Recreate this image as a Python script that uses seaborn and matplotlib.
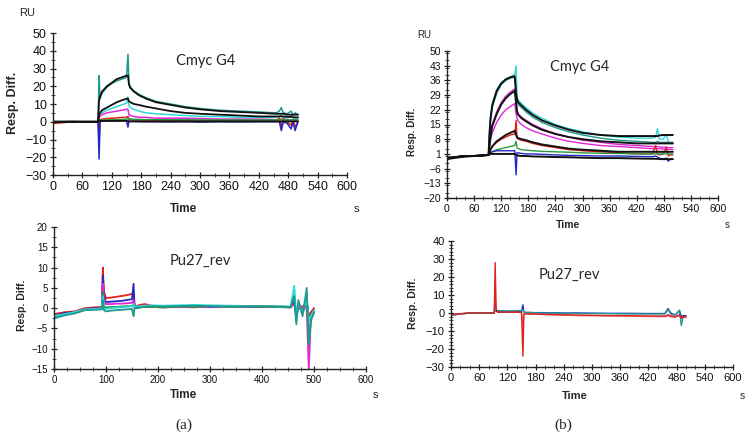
import numpy as np
import pandas as pd
import seaborn as sns
import matplotlib.pyplot as plt
from matplotlib.ticker import MultipleLocator, FixedLocator

# sampling times (s) shared by every sensorgram
time_s = [0, 20, 40, 60, 80, 92, 94, 96, 100, 110, 120, 130, 140, 150, 153, 155, 158, 165,
          175, 190, 210, 240, 270, 300, 340, 380, 420, 455, 462, 466, 470, 478, 486, 490, 494, 500]

# (a) Cmyc G4
a_top_teal = [0, 0, 0.2, 0, 0, 0, 26, 13, 16, 19.5, 21.5, 23, 24, 25, 38, 22, 19.5, 17.5, 15.5, 13.5,
              11.5, 10, 8.5, 7.5, 6.5, 6, 5.5, 5, 6, 8, 5, 4.5, 6, 3.5, 5, 4]
a_top_cyan = [0, 0, 0, 0, 0, 0, 3, 4, 5, 6.5, 7.5, 8.5, 9.5, 10.5, 14, 9, 8, 7, 6, 5,
              4.5, 4, 3.5, 3, 3, 2.5, 2.5, 2.5, 3, 4, 2.5, 2, 3, 2, 2, 2]
a_top_magenta = [0, 0, 0, 0, 0, 0, 2, 3, 4, 5, 5.5, 6, 6.5, 7, 7, 4, 3.5, 3, 2.5, 2.5,
                 2, 2, 2, 1.8, 1.5, 1.5, 1.5, 1.2, 1.2, 1.2, 1, 1, 1, 1, 1, 1]
a_top_red = [-1, -0.5, 0, 0, 0, 0, -12, 1, 1.5, 1.8, 2, 2.2, 2.4, 2.5, 3, 1.5, 1.2, 1, 1, 1,
             0.8, 0.8, 0.7, 0.7, 0.6, 0.6, 0.5, 0.5, 2, -3, 2, 0, -2, 1, -3, 0]
a_top_blue = [-0.5, 0, -0.3, 0, -0.2, 0, -21, 0, 0.3, 0.4, 0.5, 0.5, 0.6, 0.6, -3, 0.3, 0.2, 0.2, 0.1, 0,
              0, -0.1, 0, -0.2, 0, -0.1, 0, 0, 0, -5, 0, -1, -4, 0, -5, 0]
a_top_green = [0, 0, 0, 0, 0, 0, 1, 0.8, 1, 1, 1.1, 1.2, 1.2, 1.3, 2, 1.5, 1.5, 1.4, 1.3, 1.2,
               1.2, 1.1, 1.1, 1, 1, 1, 1, 1, 1, 1.5, 1, 1, 1, 1, 1, 1]
a_top_black1 = [0, 0, 0, 0, 0, 0, 12, 14, 17, 20, 22, 24, 25, 26, 26, 21, 19, 17, 15, 13,
                11, 9.5, 8, 7, 6, 5.5, 5, 4.5, 4.5, 4.5, 4.5, 4, 4, 4, 4, 4]
a_top_black2 = [0, 0, 0, 0, 0, 0, 4, 5, 6.5, 8, 9.5, 11, 12, 13, 13, 11.5, 11, 10, 9.5, 8.5,
                7.5, 6, 5, 4.5, 4, 3.5, 3, 3, 3, 3, 3, 2.8, 2.8, 2.5, 2.5, 2.5]
a_top_black3 = [0, 0, 0, 0, 0, 0, 0.5, 0.5, 0.5, 0.5, 0.5, 0.5, 0.5, 0.5, 0.5, 0.2, 0.2, 0.2, 0.2, 0.2,
                0.2, 0.2, 0.2, 0.2, 0.2, 0.2, 0.2, 0.2, 0.2, 0.2, 0.2, 0.2, 0.2, 0.2, 0.2, 0.2]

# (a) Pu27_rev
a_bot_red = [-1.5, -1, -0.8, 0, 0.2, 0.3, 10, 4, 2.5, 2.6, 2.8, 3, 3.2, 3.5, 3.5, 0.5, 0.5, 0.8, 1, 0.5,
             0.3, 0.5, 0.4, 0.5, 0.4, 0.5, 0.4, 0.3, 2, -1, 1, 0, 2, -2, -1, 0]
a_bot_blue = [-2, -1.2, -1, -0.2, 0, 0.1, 8, 3, 1.5, 1.6, 1.7, 1.8, 2, 2.2, 6, 0.2, 0, 0.2, 0.3, 0.3,
              0.2, 0.3, 0.4, 0.3, 0.4, 0.3, 0.4, 0.2, 1.5, -2, 0.5, -1, 1, -3, -2, -0.5]
a_bot_magenta = [-2, -1.5, -1, -0.3, -0.2, 0, 6, 2, 1, 1, 1.1, 1.1, 1.2, 1.3, 2, 0.5, 0.3, 0.3, 0.4, 0.3,
                 0.2, 0.3, 0.2, 0.4, 0.3, 0.4, 0.3, 0.2, 1, -1, 0, 0.5, 0, -15, -2, -1]
a_bot_green = [-2, -1.5, -1, -0.3, -0.2, 0, 4, 0.5, 0.2, 0.3, 0.3, 0.4, 0.5, 0.5, 1, 0, 0.2, 0.2, 0.3, 0.3,
               0.2, 0.4, 0.3, 0.5, 0.3, 0.4, 0.3, 0.2, 3, -3, 1, -1, 2, -9, -3, -1]
a_bot_cyan = [-2, -1.5, -1, -0.3, -0.2, -0.1, 3, 0, -0.2, 0, 0.1, 0.2, 0.3, 0.4, 1, 0.3, 0.4, 0.5, 0.6, 0.7,
              0.6, 0.7, 0.8, 0.7, 0.6, 0.5, 0.5, 0.4, 5.5, -2, 1, -1, 2, -3, -2, -0.5]
a_bot_teal = [-2.5, -1.8, -1.3, -0.5, -0.4, -0.3, 2, -0.5, -0.8, -0.6, -0.5, -0.4, -0.3, -0.2, -2, 0, 0.1, 0.2, 0.3, 0.5,
              0.4, 0.5, 0.6, 0.5, 0.4, 0.5, 0.4, 0.3, 3, -4, 2, -2, 5, -9, -3, -1]

# (b) Cmyc G4
b_top_cyan = [-1, -0.5, 0, 0, 0.3, 0.5, 12, 18, 25, 31.5, 35, 36.5, 37.5, 39, 43, 28, 26.5, 25, 23, 20.5,
              18, 15, 13, 11.5, 10, 9, 8.5, 8.5, 9, 13, 8, 8, 10, 7, 6, 6]
b_top_teal = [-1, -0.5, 0, 0, 0.3, 0.5, 9, 16, 23, 30, 34, 36, 37, 37.5, 30, 26, 24.5, 23, 21, 18.5,
              16, 13.5, 11.5, 10, 8.5, 7.5, 7, 6.5, 6.5, 7, 6.5, 6.5, 6.5, 6.5, 6.5, 6.5]
b_top_magenta1 = [-1, -0.5, 0, 0, 0.3, 0.5, 6, 10, 15, 21, 25.5, 28.5, 30.5, 32, 26, 22, 20, 18.5, 17, 15,
                  13, 10.5, 9, 7.5, 6.5, 5.5, 5, 4.5, 4.5, 4.5, 4.3, 4.2, 4.2, 4, 4, 4]
b_top_magenta2 = [-1, -0.5, 0, 0, 0.3, 0.5, 4, 7, 11, 16, 19.5, 22, 23.5, 25, 20, 18, 16.5, 15, 13.5, 12,
                  10.5, 8.5, 7, 6, 5, 4.5, 4, 3.5, 3.5, 3.5, 3.5, 3.3, 3.3, 3.2, 3.2, 3]
b_top_red = [-1, -0.5, 0, 0, 0.3, 0.5, 1.5, 3, 4.5, 6.5, 8, 9, 10, 10.5, 17, 8.5, 8, 7.5, 7, 6,
             5, 4, 3, 2.5, 2, 1.5, 1, 1, 5, 1, 0.5, 1, 4, 0, 0.5, 0.5]
b_top_green = [-1, -0.5, 0, 0, 0.3, 0.5, 1, 1.5, 2, 3, 3.5, 4, 4.5, 5, 7, 4, 3.5, 3, 2.8, 2.5,
               2.2, 2, 1.8, 1.5, 1.3, 1.2, 1, 1, 1, 1, 1, 1, 1, 1, 1, 1]
b_top_blue = [-1, -0.5, 0, 0, 0.3, 0.5, 1, 1.5, 2, 2.5, 2.5, 2.5, 2.5, 2.5, -9, 1.5, 1.5, 1.2, 1, 1,
              0.8, 0.5, 0.3, 0.2, 0, 0, -0.2, -0.3, 0, -0.5, -1, -1.5, -1, -2.5, -1.5, -1.5]
b_top_black1 = [-1, -0.5, 0, 0, 0.3, 0.5, 10, 17, 24, 31, 34.5, 36.5, 37.5, 38, 30, 27, 25.5, 24, 22, 19.5,
                17, 14.5, 12.5, 11, 10, 9.5, 9.5, 9.5, 9.5, 9.5, 9.8, 10, 10, 10, 10, 10]
b_top_black2 = [-1, -0.5, 0, 0, 0.3, 0.5, 5, 9, 14, 20, 24.5, 27.5, 29.5, 31, 25, 21, 19.5, 18, 16.5, 14.5,
                12.5, 10.5, 9, 8, 7, 6.5, 6, 6, 6, 6, 6, 6, 6, 6, 6, 6]
b_top_black3 = [-1, -0.5, 0, 0, 0.3, 0.5, 1.5, 3, 4.5, 7, 8.5, 10, 11, 12, 10, 9, 8.5, 8, 7.5, 6.5,
                5.5, 4.5, 3.5, 3, 2.5, 2, 2, 2, 2, 2, 2, 2, 2, 2, 2, 2]
b_top_black4 = [-1.5, -0.8, -0.3, 0, 0.3, 0.5, 0.8, 1, 1, 1, 1, 1, 1, 1, 0.5, 0.3, 0.2, 0, 0, -0.2,
                -0.3, -0.5, -0.6, -0.8, -1, -1, -1.2, -1.3, -1.3, -1.4, -1.4, -1.5, -1.5, -1.5, -1.5, -1.5]

# (b) Pu27_rev
b_bot_pink = [-1, -0.3, 0, 0, 0, 0, 10, 1, 0.5, 0.5, 0.5, 0.5, 0.4, 0.4, -8, -0.5, -0.5, -0.6, -0.7, -0.8,
              -1, -1.2, -1.4, -1.5, -1.6, -1.8, -1.9, -2, -1.5, -2, -2.2, -2.3, -1.5, -3, -2.5, -2.5]
b_bot_blue = [-1, -0.5, 0, 0, 0, 0, 5, 1, 0.5, 0.5, 0.6, 0.6, 0.7, 0.8, 4.5, 0.5, 0.3, 0.3, 0.2, 0.2,
              0.1, 0, 0, -0.1, -0.2, -0.2, -0.3, -0.3, 2.5, 0.5, -0.5, -1, 1.5, -2, -1.5, -1.5]
b_bot_teal = [-1.5, -0.5, 0, 0, 0, 0, 3, 1.5, 1.3, 1.3, 1.2, 1.2, 1.3, 1.3, 2, 0.5, 0.3, 0.3, 0.2, 0,
              0, -0.2, -0.3, -0.3, -0.4, -0.5, -0.5, -0.5, 2, 0, -1, -1, 1.5, -7, -2, -2]
b_bot_red = [-1, -0.5, 0, 0, 0, 0, 28, 2, 0.5, 0.5, 0.5, 0.5, 0.5, 0.5, -24, -1, -0.5, -0.5, -0.5, -0.7,
             -0.8, -1, -1.2, -1.3, -1.5, -1.5, -1.7, -1.7, -1, -1.5, -1.8, -2, -1, -3, -2, -2]

colors = {"teal": "#1f9a8c", "cyan": "#2fd9d9", "magenta": "#e028d8", "red": "#e3201b",
          "blue": "#2228c8", "green": "#2a9a3a", "pink": "#e86a8a", "black": "#111111"}


def make_table(curves):
    rows = []
    for name, vals in curves:
        col = name.split("_")[-1].rstrip("0123456789")
        for t, v in zip(time_s, vals):
            rows.append({"Time": t, "Resp": v, "curve": name, "color": col})
    return pd.DataFrame(rows)


panel_a_top = make_table([("a_teal", a_top_teal), ("a_cyan", a_top_cyan), ("a_magenta", a_top_magenta),
                          ("a_red", a_top_red), ("a_blue", a_top_blue), ("a_green", a_top_green),
                          ("a_black1", a_top_black1), ("a_black2", a_top_black2), ("a_black3", a_top_black3)])
panel_a_bot = make_table([("a_red", a_bot_red), ("a_blue", a_bot_blue), ("a_magenta", a_bot_magenta),
                          ("a_green", a_bot_green), ("a_cyan", a_bot_cyan), ("a_teal", a_bot_teal)])
panel_b_top = make_table([("b_cyan", b_top_cyan), ("b_teal", b_top_teal), ("b_magenta1", b_top_magenta1),
                          ("b_magenta2", b_top_magenta2), ("b_red", b_top_red), ("b_green", b_top_green),
                          ("b_blue", b_top_blue), ("b_black1", b_top_black1), ("b_black2", b_top_black2),
                          ("b_black3", b_top_black3), ("b_black4", b_top_black4)])
panel_b_bot = make_table([("b_pink", b_bot_pink), ("b_blue", b_bot_blue), ("b_teal", b_bot_teal),
                          ("b_red", b_bot_red)])

sns.set_style("ticks")
plt.rcParams['font.family'] = ['Liberation Sans', 'DejaVu Sans']

W, H = 753, 445
fig = plt.figure(figsize=(W / 100, H / 100), dpi=100)


def px_axes(left, top, right, bottom):
    return fig.add_axes([left / W, 1 - bottom / H, (right - left) / W, (bottom - top) / H])


def px_text(x, y, s, **kw):
    fig.text(x / W, 1 - y / H, s, ha="center", va="center", **kw)


def draw(ax, df, lw_color=1.1, lw_black=1.3):
    pal = {c: colors[df[df.curve == c].color.iloc[0]] for c in df.curve.unique()}
    sizes = {c: (lw_black if "black" in c else lw_color) for c in df.curve.unique()}
    sns.lineplot(data=df, x="Time", y="Resp", hue="curve", palette=pal, size="curve", sizes=sizes,
                 estimator=None, sort=False, legend=False, ax=ax)


def style(ax, xmaj, xmin, ymin_lim, ymax_lim, yticks, ymin_step, fs):
    sns.despine(ax=ax)
    ax.set_xlim(0, 600)
    ax.set_ylim(ymin_lim, ymax_lim)
    ax.xaxis.set_major_locator(MultipleLocator(xmaj))
    ax.xaxis.set_minor_locator(MultipleLocator(xmin))
    ax.yaxis.set_major_locator(FixedLocator(yticks))
    ax.yaxis.set_minor_locator(MultipleLocator(ymin_step))
    ax.tick_params(which="major", direction="inout", length=5, width=0.9, labelsize=fs, pad=2,
                   color="#222222", labelcolor="#111111")
    ax.tick_params(which="minor", direction="inout", length=2.5, width=0.7, color="#444444")
    for sp in ax.spines.values():
        sp.set_color("#222222")
        sp.set_linewidth(1.0)
    ax.set_xlabel("")
    ax.set_ylabel("")


# (a) top
ax1 = px_axes(53, 33, 347, 175)
draw(ax1, panel_a_top)
style(ax1, 60, 30, -30, 50, list(range(-30, 51, 10)), 5, 9)
ax1.text(0.52, 0.8, "Cmyc G4", transform=ax1.transAxes, ha="center", va="center", fontsize=10.5, family="Lato")
px_text(27, 13, "RU", fontsize=8)
px_text(13, 103, "Resp. Diff.", fontsize=9, fontweight="bold", rotation=90)
px_text(183, 209, "Time", fontsize=8.5, fontweight="bold")
px_text(356, 209, "s", fontsize=8)

# (a) bottom
ax2 = px_axes(54, 227, 366, 369)
draw(ax2, panel_a_bot, lw_color=1.3)
style(ax2, 100, 25, -15, 20, list(range(-15, 21, 5)), 2.5, 7)
ax2.text(0.47, 0.76, "Pu27_rev", transform=ax2.transAxes, ha="center", va="center", fontsize=10.5, family="Lato")
px_text(22, 305, "Resp. Diff.", fontsize=7.5, fontweight="bold", rotation=90)
px_text(183, 395, "Time", fontsize=8.5, fontweight="bold")
px_text(375, 395, "s", fontsize=8)

# (b) top
ax3 = px_axes(447, 51, 718, 198)
draw(ax3, panel_b_top, lw_color=1.0, lw_black=1.4)
style(ax3, 60, 20, -20, 50, list(range(-20, 51, 7)), 3.5, 7.5)
ax3.text(0.49, 0.89, "Cmyc G4", transform=ax3.transAxes, ha="center", va="center", fontsize=10.5, family="Lato")
px_text(424, 35, "RU", fontsize=7)
px_text(412, 132, "Resp. Diff.", fontsize=7, fontweight="bold", rotation=90)
px_text(568, 225, "Time", fontsize=7.5, fontweight="bold")
px_text(727, 225, "s", fontsize=7)

# (b) bottom
ax4 = px_axes(451, 241, 733, 367)
draw(ax4, panel_b_bot, lw_color=1.0)
style(ax4, 60, 20, -30, 40, list(range(-30, 41, 10)), 2, 8)
ax4.text(0.42, 0.73, "Pu27_rev", transform=ax4.transAxes, ha="center", va="center", fontsize=10.5, family="Lato")
px_text(413, 303, "Resp. Diff.", fontsize=7.5, fontweight="bold", rotation=90)
px_text(575, 396, "Time", fontsize=8, fontweight="bold")
px_text(742, 396, "s", fontsize=7.5)

px_text(184, 425, "(a)", fontsize=11, family="Liberation Serif")
px_text(563, 425, "(b)", fontsize=11, family="Liberation Serif")

plt.savefig("out.png", dpi=100)
